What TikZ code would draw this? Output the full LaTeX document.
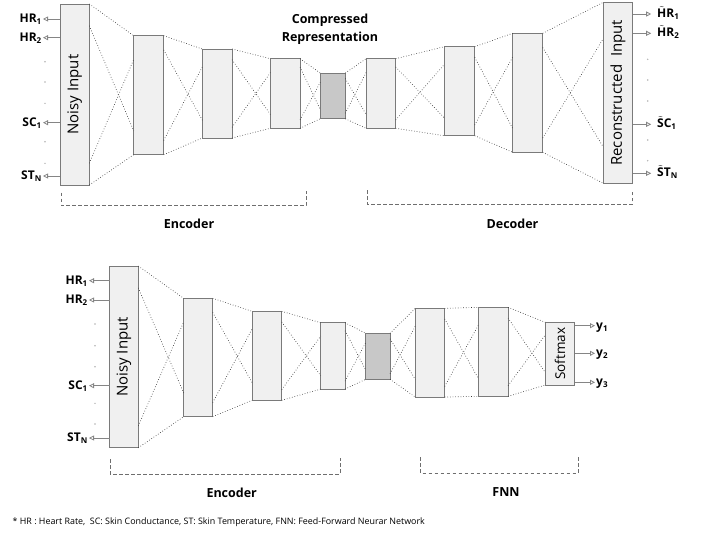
\documentclass[tikz,border=0pt]{standalone}
\usepackage{fontspec}
\setmainfont{Open Sans}
\usetikzlibrary{arrows.meta,calc}

\definecolor{boxfill}{HTML}{F0F0F0}
\definecolor{boxline}{HTML}{7A7A7A}
\definecolor{corefill}{HTML}{C8C8C8}
\definecolor{dotline}{HTML}{383838}
\definecolor{arrline}{HTML}{858585}
\definecolor{brace}{HTML}{6E6E6E}

% a layer block: style, name, centre x, centre y, width, height
\newcommand\lyr[6]{\node[#1, minimum width=#5pt, minimum height=#6pt] (#2) at (#3,#4) {};}
% dotted fully-connected links between two neighbouring layers
\newcommand\links[2]{%
  \draw[conn] (#1.north east) -- (#2.north west);
  \draw[conn] (#1.south east) -- (#2.south west);
  \draw[conn] ($(#1.north east)!0.12!(#1.south east)$) -- ($(#2.south west)!0.2!(#2.north west)$);
  \draw[conn] ($(#1.south east)!0.12!(#1.north east)$) -- ($(#2.north west)!0.2!(#2.south west)$);
}
% capital letter carrying a tilde
\newcommand\tld[1]{$\tilde{\mbox{#1}}$}

\begin{document}
\begin{tikzpicture}[x=1pt,y=-1pt,
  layer/.style={draw=boxline, fill=boxfill, line width=0.9pt, inner sep=0pt, outer sep=0pt},
  core/.style={layer, fill=corefill},
  conn/.style={draw=dotline, line width=0.65pt, dotted},
  arr/.style={draw=arrline, line width=0.8pt, -{Triangle[open,length=5pt,width=5pt]}},
  lbl/.style={font=\fontsize{12}{14}\selectfont\bfseries, inner sep=1pt, text height=9pt, text depth=2pt},
  vdot/.style={fill=gray!60, draw=none, circle, inner sep=0pt, minimum size=1.6pt},
  rot/.style={rotate=90, font=\fontsize{15}{17}\selectfont},
  bracket/.style={draw=brace, line width=0.7pt, dash pattern=on 3.5pt off 2.5pt},
  title/.style={font=\fontsize{12.5}{17.6}\selectfont\bfseries, align=center},
  stage/.style={font=\fontsize{12.5}{15}\selectfont\bfseries, inner sep=1pt}
]
\useasboundingbox (0,0) rectangle (704,533);

% ---------- denoising autoencoder ----------
\lyr{layer}{tni}{74.7}{94.5}{29.3}{181}
\lyr{layer}{t2}{148.7}{95.2}{30}{119}
\lyr{layer}{t3}{217.2}{93.5}{29.7}{89}
\lyr{layer}{t4}{285.2}{93.5}{29.7}{69.6}
\lyr{core}{tc}{332.8}{95.9}{25}{45.7}
\lyr{layer}{t6}{380.9}{93.5}{29.7}{69.6}
\lyr{layer}{t7}{459.5}{91.2}{30.4}{89}
\lyr{layer}{t8}{527.7}{92.8}{30}{119}
\lyr{layer}{tri}{618}{92.8}{29.4}{181}

\links{tni}{t2}
\links{t2}{t3}
\links{t3}{t4}
\links{t4}{tc}
\links{tc}{t6}
\links{t6}{t7}
\links{t7}{t8}
\links{t8}{tri}

\node[rot] (tnilab) at (tni.center) {Noisy Input};
\node[rot] (trilab) at (tri.center) {Reconstructed\ \ Input};
\node[title] (ctitle) at (330,29.5) {Compressed\\Representation};

% input signals
\node[lbl, anchor=east] (ihr1) at (43,19) {HR\textsubscript{1}};
\node[lbl, anchor=east] (ihr2) at (43,37.7) {HR\textsubscript{2}};
\node[lbl, anchor=east] (isc1) at (43,122.7) {SC\textsubscript{1}};
\node[lbl, anchor=east] (istn) at (43,176) {ST\textsubscript{N}};
\foreach \s in {ihr1,ihr2,isc1,istn} \draw[arr] (tni.west |- \s.east) -- (\s.east);
\foreach \y [count=\i] in {61.7,82,103.3,141.7,163.3} \node[vdot] (tdot\i) at (45,\y) {};

% reconstructed signals
\node[lbl, anchor=west] (ohr1) at (656,14) {\tld{H}R\textsubscript{1}};
\node[lbl, anchor=west] (ohr2) at (656,33.3) {\tld{H}R\textsubscript{2}};
\node[lbl, anchor=west] (osc1) at (656,124.3) {\tld{S}C\textsubscript{1}};
\node[lbl, anchor=west] (ostn) at (656,173.3) {\tld{S}T\textsubscript{N}};
\foreach \s in {ohr1,ohr2,osc1,ostn} \draw[arr] (tri.east |- \s.west) -- ++(18.5,0);
\foreach \y [count=\i] in {59.3,80,101,140,160.7} \node[vdot] (odot\i) at (647.7,\y) {};

% stage brackets
\draw[bracket] (61,192.7) -- (61,205.7) -- (306,205.7) -- (306,191);
\node[stage] (tenc) at (189,224) {Encoder};
\draw[bracket] (367.3,190.3) -- (367.3,204.3) -- (632.3,204.3) -- (632.3,190.7);
\node[stage] (tdec) at (512.5,224) {Decoder};

% ---------- encoder + classifier ----------
\lyr{layer}{bni}{124}{356.9}{28.6}{181.7}
\lyr{layer}{b2}{198.2}{357.5}{29}{118.4}
\lyr{layer}{b3}{266.9}{355.8}{29.7}{89}
\lyr{layer}{b4}{332.9}{355.9}{24.3}{66.3}
\lyr{core}{bc}{377.9}{356.3}{24.3}{46}
\lyr{layer}{f1}{430}{352.7}{29.4}{88.7}
\lyr{layer}{f2}{493.2}{351.8}{29.7}{89}
\lyr{layer}{sm}{560}{353.7}{29.4}{62.7}

\links{bni}{b2}
\links{b2}{b3}
\links{b3}{b4}
\links{b4}{bc}
\links{bc}{f1}
\links{f1}{f2}
\links{f2}{sm}

\node[rot] (bnilab) at (bni.center) {Noisy Input};
\node[rot, font=\fontsize{13.5}{15}\selectfont] (smlab) at (sm.center) {Softmax};

\node[lbl, anchor=east] (bhr1) at (89,280.7) {HR\textsubscript{1}};
\node[lbl, anchor=east] (bhr2) at (89,300) {HR\textsubscript{2}};
\node[lbl, anchor=east] (bsc1) at (89,385.7) {SC\textsubscript{1}};
\node[lbl, anchor=east] (bstn) at (89,438) {ST\textsubscript{N}};
\foreach \s in {bhr1,bhr2,bsc1,bstn} \draw[arr] (bni.west |- \s.east) -- (\s.east);
\foreach \y [count=\i] in {324,345.7,366.7,403.3,424} \node[vdot] (bdot\i) at (95,\y) {};

\node[lbl, anchor=west] (y1) at (595,325.7) {y\textsubscript{1}};
\node[lbl, anchor=west] (y2) at (595,353.3) {y\textsubscript{2}};
\node[lbl, anchor=west] (y3) at (595,382.3) {y\textsubscript{3}};
\foreach \s in {y1,y2,y3} \draw[arr] (sm.east |- \s.west) -- (\s.west);

\draw[bracket] (110,459.3) -- (110,474) -- (340,474) -- (340,458);
\node[stage] (benc) at (231.7,493.3) {Encoder};
\draw[bracket] (420.7,457.3) -- (420.7,473.3) -- (578.3,473.3) -- (578.3,457.3);
\node[stage] (bfnn) at (506,492.3) {FNN};

% footnote
\node[anchor=west, inner sep=0pt, font=\fontsize{8.9}{10}\selectfont] (note) at (12.5,522)
  {* HR : Heart Rate,\ \ SC: Skin Conductance, ST: Skin Temperature, FNN: Feed-Forward Neurar Network};
\end{tikzpicture}
\end{document}
